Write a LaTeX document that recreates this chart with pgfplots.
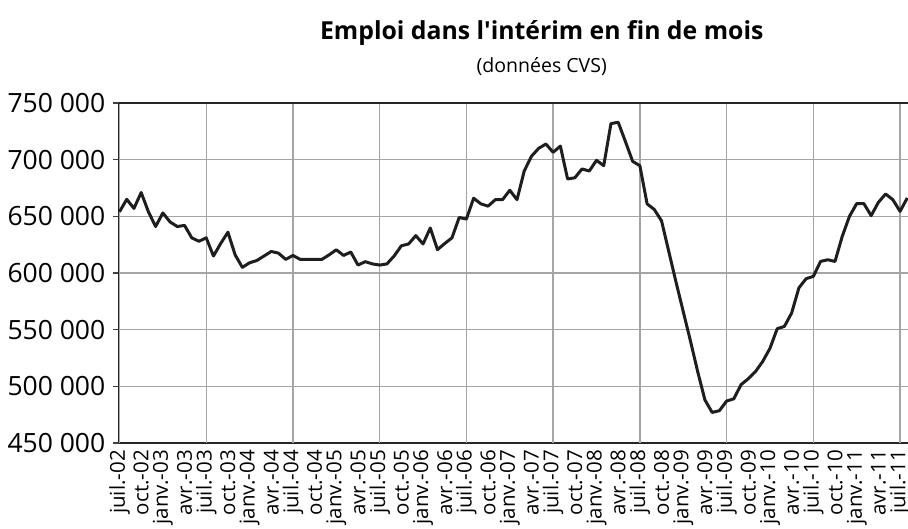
\documentclass[border=0pt]{standalone}
\usepackage{pgfplots}
\pgfplotsset{compat=1.18}
\usepackage{fontspec}
\setmainfont{Open Sans}
\definecolor{gridc}{RGB}{165,165,165}
\definecolor{linec}{RGB}{30,30,30}
\begin{document}
\begin{tikzpicture}
\begin{axis}[
 name=ax,
 scale only axis,
 width=788.5pt, height=340pt,
 xmin=0, xmax=109.1,
 ymin=450000, ymax=750000,
 scaled y ticks=false,
 axis x line*=bottom, axis y line*=left,
 axis line style={line width=2pt, black!85, -},
 tick align=outside,
 major tick length=6pt,
 xtick={0,3,...,108},
 xticklabels={juil.-02,oct.-02,janv.-03,avr.-03,juil.-03,oct.-03,janv.-04,avr.-04,juil.-04,oct.-04,janv.-05,avr.-05,juil.-05,oct.-05,janv.-06,avr.-06,juil.-06,oct.-06,janv.-07,avr.-07,juil.-07,oct.-07,janv.-08,avr.-08,juil.-08,oct.-08,janv.-09,avr.-09,juil.-09,oct.-09,janv.-10,avr.-10,juil.-10,oct.-10,janv.-11,avr.-11,juil.-11},
 x tick label style={rotate=90, anchor=east, font=\fontsize{20.5}{20.5}\selectfont, inner sep=1pt},
 major x tick style={draw=none},
 extra x ticks={0,12,...,108},
 extra x tick labels={},
 extra x tick style={grid=major, major grid style={gridc, line width=1.3pt}, major tick style={draw=black!75, line width=1.3pt}},
 ytick={450000,500000,...,750000},
 yticklabels={450 000,500 000,550 000,600 000,650 000,700 000,750 000},
 y tick label style={font=\fontsize{26.5}{26.5}\selectfont, inner sep=0pt, xshift=-8pt},
 ymajorgrids,
 major y grid style={gridc, line width=1.3pt},
 major y tick style={black!75, line width=1.3pt},
 clip=false,
]
\addplot[linec, line width=3pt, line join=round] coordinates {
(0,654000)(1,665000)(2,657000)(3,671000)(4,654000)(5,641000)(6,653000)(7,645000)(8,641000)(9,642000)
(10,631000)(11,628000)(12,631000)(13,615000)(14,626000)(15,636000)(16,616000)(17,605000)(18,609000)(19,611000)
(20,615000)(21,619000)(22,617500)(23,612000)(24,615500)(25,612000)(26,612000)(27,612000)(28,612000)(29,616000)
(30,620500)(31,615500)(32,618500)(33,607000)(34,610000)(35,608000)(36,607000)(37,608000)(38,615000)(39,624000)
(40,625600)(41,633000)(42,625600)(43,639700)(44,620600)(45,626000)(46,631000)(47,649000)(48,647600)(49,666000)
(50,661000)(51,659000)(52,664700)(53,664700)(54,673000)(55,664700)(56,690000)(57,703000)(58,710000)(59,713800)
(60,706500)(61,712000)(62,683000)(63,684000)(64,691800)(65,690000)(66,699400)(67,694700)(68,731800)(69,733000)
(70,716000)(71,698500)(72,694700)(73,661000)(74,656000)(75,646000)(76,619000)(77,592000)(78,566000)(79,540000)
(80,513000)(81,488000)(82,477000)(83,478500)(84,487000)(85,489000)(86,501500)(87,506700)(88,513000)(89,522000)
(90,533500)(91,550800)(92,552900)(93,564700)(94,586800)(95,595000)(96,597000)(97,610200)(98,611700)(99,610200)
(100,632300)(101,650000)(102,661200)(103,661200)(104,650600)(105,662300)(106,669700)(107,664700)(108,654400)(109,666200)
};
\draw[line width=2pt, black!85] (rel axis cs:0,1) -- (rel axis cs:1.02,1);
\end{axis}
\node[font=\bfseries\fontsize{24.8}{24.8}\selectfont] at ([xshift=28pt,yshift=70pt]ax.north) {Emploi dans l\textquotesingle intérim en fin de mois};
\node[font=\fontsize{19.5}{19.5}\selectfont] at ([xshift=28pt,yshift=36pt]ax.north) {(données CVS)};
\pgfresetboundingbox
\path[use as bounding box] ([xshift=-119.5pt,yshift=-86pt]ax.south west) rectangle ([yshift=103pt]ax.north east);
\end{tikzpicture}
\end{document}
